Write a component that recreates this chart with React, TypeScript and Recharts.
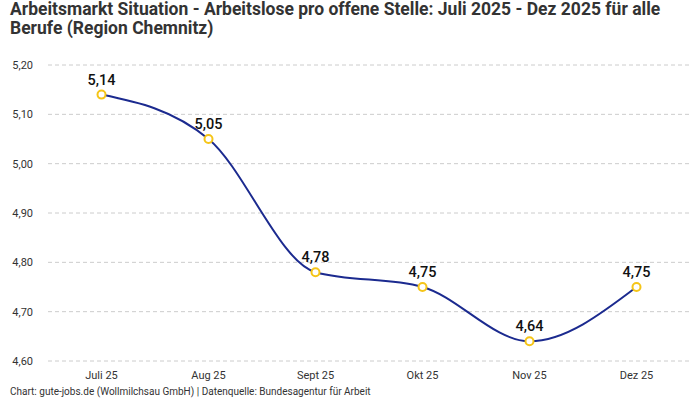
import React from "react";
import { LineChart, Line, XAxis, YAxis, CartesianGrid, LabelList } from "recharts";

const categories = ["Juli 25", "Aug 25", "Sept 25", "Okt 25", "Nov 25", "Dez 25"];
const values = [5.14, 5.05, 4.78, 4.75, 4.64, 4.75];
const yTicks = [4.6, 4.7, 4.8, 4.9, 5.0, 5.1, 5.2];

const data = categories.map((c, i) => ({ name: c, value: values[i] }));

const fmt = (v: number) => v.toFixed(2).replace(".", ",");
const FONT = "Roboto, 'Noto Sans', sans-serif";

export default function App() {
  return (
    <div style={{ position: "absolute", left: 0, top: 0, width: 700, height: 400, background: "#fff", fontFamily: FONT }}>
      <div style={{ position: "absolute", left: 10, top: 0, width: 690, fontSize: 17.5, fontWeight: 700, color: "#333", lineHeight: "19px" }}>
        Arbeitsmarkt Situation - Arbeitslose pro offene Stelle: Juli 2025 - Dez 2025 für alle
        <br />
        Berufe (Region Chemnitz)
      </div>
      <div style={{ position: "absolute", left: 10, top: 386, fontSize: 10, color: "#333" }}>
        Chart: gute-jobs.de (Wollmilchsau GmbH) | Datenquelle: Bundesagentur für Arbeit
      </div>
      <div style={{ position: "absolute", left: 0, top: 0 }}>
        <LineChart width={700} height={400} data={data} margin={{ top: 65, right: 10, bottom: 19, left: 0 }}>
          <CartesianGrid vertical={false} stroke="#ccc" strokeDasharray="4 3" />
          <XAxis
            dataKey="name"
            axisLine={false}
            tickLine={false}
            padding={{ left: 53.5, right: 53.5 }}
            tick={{ fontSize: 11, fill: "#333", fontFamily: FONT }}
            tickMargin={4}
            height={20}
          />
          <YAxis
            domain={[4.6, 5.2]}
            ticks={yTicks}
            axisLine={false}
            tickLine={false}
            tickFormatter={fmt}
            width={48}
            tickSize={0}
            tickMargin={15}
            tick={{ fontSize: 11, fill: "#333", fontFamily: FONT }}
          />
          <Line
            type="monotone"
            dataKey="value"
            stroke="#1b2a8f"
            strokeWidth={2}
            dot={{ r: 4, fill: "#fff", stroke: "#f5c518", strokeWidth: 2 }}
            isAnimationActive={false}
          >
            <LabelList dataKey="value" position="top" offset={10} formatter={(v: number) => fmt(v)} style={{ fontSize: 14.5, fill: "#111", fontWeight: 500, fontFamily: FONT }} />
          </Line>
        </LineChart>
      </div>
    </div>
  );
}
